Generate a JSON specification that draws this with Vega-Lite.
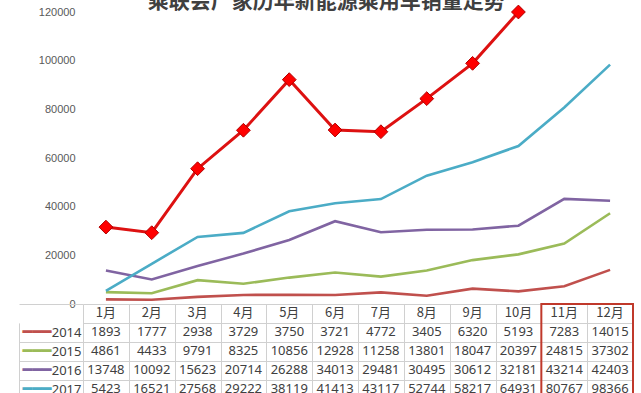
{
  "$schema": "https://vega.github.io/schema/vega-lite/v6.json",
  "background": "white",
  "padding": {"left": 18, "top": -10, "right": 0, "bottom": -21.5},
  "title": {"text": "乘联会厂家历年新能源乘用车销量走势", "font": "Noto Sans CJK SC", "fontSize": 21, "fontWeight": "bold", "color": "#404040", "anchor": "middle", "offset": -8.5},
  "bounds": "flush",
  "spacing": 0,
  "config": {"view": {"stroke": null}},
  "resolve": {"scale": {"x": "independent", "y": "independent"}},
  "datasets": {
    "sales": [
      {"year": "2014", "month": "1月", "value": 1893}, {"year": "2014", "month": "2月", "value": 1777}, {"year": "2014", "month": "3月", "value": 2938}, {"year": "2014", "month": "4月", "value": 3729}, {"year": "2014", "month": "5月", "value": 3750}, {"year": "2014", "month": "6月", "value": 3721}, {"year": "2014", "month": "7月", "value": 4772}, {"year": "2014", "month": "8月", "value": 3405}, {"year": "2014", "month": "9月", "value": 6320}, {"year": "2014", "month": "10月", "value": 5193}, {"year": "2014", "month": "11月", "value": 7283}, {"year": "2014", "month": "12月", "value": 14015},
      {"year": "2015", "month": "1月", "value": 4861}, {"year": "2015", "month": "2月", "value": 4433}, {"year": "2015", "month": "3月", "value": 9791}, {"year": "2015", "month": "4月", "value": 8325}, {"year": "2015", "month": "5月", "value": 10856}, {"year": "2015", "month": "6月", "value": 12928}, {"year": "2015", "month": "7月", "value": 11258}, {"year": "2015", "month": "8月", "value": 13801}, {"year": "2015", "month": "9月", "value": 18047}, {"year": "2015", "month": "10月", "value": 20397}, {"year": "2015", "month": "11月", "value": 24815}, {"year": "2015", "month": "12月", "value": 37302},
      {"year": "2016", "month": "1月", "value": 13748}, {"year": "2016", "month": "2月", "value": 10092}, {"year": "2016", "month": "3月", "value": 15623}, {"year": "2016", "month": "4月", "value": 20714}, {"year": "2016", "month": "5月", "value": 26288}, {"year": "2016", "month": "6月", "value": 34013}, {"year": "2016", "month": "7月", "value": 29481}, {"year": "2016", "month": "8月", "value": 30495}, {"year": "2016", "month": "9月", "value": 30612}, {"year": "2016", "month": "10月", "value": 32181}, {"year": "2016", "month": "11月", "value": 43214}, {"year": "2016", "month": "12月", "value": 42403},
      {"year": "2017", "month": "1月", "value": 5423}, {"year": "2017", "month": "2月", "value": 16521}, {"year": "2017", "month": "3月", "value": 27568}, {"year": "2017", "month": "4月", "value": 29222}, {"year": "2017", "month": "5月", "value": 38119}, {"year": "2017", "month": "6月", "value": 41413}, {"year": "2017", "month": "7月", "value": 43117}, {"year": "2017", "month": "8月", "value": 52744}, {"year": "2017", "month": "9月", "value": 58217}, {"year": "2017", "month": "10月", "value": 64931}, {"year": "2017", "month": "11月", "value": 80767}, {"year": "2017", "month": "12月", "value": 98366},
      {"year": "2018", "month": "1月", "value": 31600}, {"year": "2018", "month": "2月", "value": 29300}, {"year": "2018", "month": "3月", "value": 55600}, {"year": "2018", "month": "4月", "value": 71400}, {"year": "2018", "month": "5月", "value": 92200}, {"year": "2018", "month": "6月", "value": 71500}, {"year": "2018", "month": "7月", "value": 70800}, {"year": "2018", "month": "8月", "value": 84400}, {"year": "2018", "month": "9月", "value": 98900}, {"year": "2018", "month": "10月", "value": 120000}
    ]
  },
  "vconcat": [
    {
      "width": 550,
      "height": 292,
      "data": {"name": "sales"},
      "encoding": {
        "x": {"field": "month", "type": "ordinal", "scale": {"type": "point", "padding": 0.5, "domain": ["1月","2月","3月","4月","5月","6月","7月","8月","9月","10月","11月","12月"]}, "axis": null},
        "y": {"field": "value", "type": "quantitative", "scale": {"domain": [0, 120000], "nice": false}, "axis": {"title": null, "values": [0, 20000, 40000, 60000, 80000, 100000, 120000], "format": "d", "grid": false, "domain": false, "ticks": false, "labelPadding": 8, "labelFont": "Liberation Sans", "labelFontSize": 11, "labelColor": "#595959"}}
      },
      "layer": [
        {
          "transform": [{"filter": "datum.year !== '2018'"}],
          "mark": {"type": "line", "strokeWidth": 2.6},
          "encoding": {"color": {"field": "year", "type": "nominal", "scale": {"domain": ["2014", "2015", "2016", "2017"], "range": ["#c0504d", "#9bbb59", "#8064a2", "#4bacc6"]}, "legend": null}}
        },
        {
          "transform": [{"filter": "datum.year === '2018'"}],
          "mark": {"type": "line", "strokeWidth": 3, "color": "#dd1111"},
          "encoding": {}
        },
        {
          "transform": [{"filter": "datum.year === '2018'"}],
          "mark": {"type": "point", "shape": "diamond", "filled": true, "size": 190, "fill": "#ff0000", "stroke": "#b00000", "strokeWidth": 1, "opacity": 1},
          "encoding": {}
        }
      ]
    },
    {
      "width": 550,
      "height": 113.4,
      "data": {"name": "sales"},
      "resolve": {"axis": {"y": "independent"}},
      "layer": [
        {
          "mark": {"type": "text", "font": "Noto Sans", "fontSize": 13, "color": "#404040"},
          "encoding": {
            "x": {"field": "month", "type": "ordinal", "scale": {"type": "band", "domain": ["1月","2月","3月","4月","5月","6月","7月","8月","9月","10月","11月","12月"], "paddingInner": 0, "paddingOuter": 0}, "axis": {"title": null, "orient": "top", "labels": false, "ticks": false, "domain": false, "grid": true, "gridColor": "#d0d0d0", "tickBand": "extent"}},
            "y": {"field": "year", "type": "ordinal", "scale": {"type": "band", "domain": ["月", "2014", "2015", "2016", "2017", "2018"], "paddingInner": 0, "paddingOuter": 0}, "axis": {"title": null, "orient": "left", "labelExpr": "datum.value === '月' ? '' : datum.value", "domain": false, "grid": true, "gridColor": "#d0d0d0", "tickBand": "extent", "ticks": true, "tickSize": 64, "tickColor": {"condition": {"test": "datum.value === '月'", "value": "transparent"}, "value": "#d0d0d0"}, "labelPadding": -62, "labelAlign": "right", "labelFont": "Noto Sans", "labelFontSize": 13, "labelColor": "#404040"}},
            "text": {"field": "value", "type": "quantitative", "format": "d"}
          }
        },
        {
          "transform": [{"filter": "datum.year === '2014'"}],
          "mark": {"type": "text", "font": "Noto Sans CJK SC", "fontSize": 13, "color": "#404040"},
          "encoding": {
            "x": {"field": "month", "type": "ordinal"},
            "y": {"datum": "月", "type": "ordinal", "axis": null},
            "text": {"field": "month", "type": "nominal"}
          }
        },
        {
          "transform": [{"filter": "false"}],
          "mark": {"type": "text"},
          "encoding": {
            "y": {"field": "year", "type": "ordinal", "axis": {"title": null, "orient": "left", "offset": 64, "domain": true, "domainColor": "#d0d0d0", "domainDash": [0, 18.9, 400, 0], "ticks": false, "grid": false, "labelExpr": "datum.value === '月' ? '' : '━━━'", "labelFont": "DejaVu Sans", "labelFontSize": 16, "labelAlign": "right", "labelPadding": -32, "labelColor": {"condition": [{"test": "datum.value === '2014'", "value": "#c0504d"}, {"test": "datum.value === '2015'", "value": "#9bbb59"}, {"test": "datum.value === '2016'", "value": "#8064a2"}, {"test": "datum.value === '2017'", "value": "#4bacc6"}], "value": "#dd1111"}}},
            "text": {"field": "value", "type": "quantitative"}
          }
        },
        {
          "data": {"values": [{"box": "11-12"}]},
          "mark": {"type": "rect", "filled": false, "stroke": "#c0392b", "strokeWidth": 2},
          "encoding": {
            "x": {"datum": "11月", "type": "ordinal", "bandPosition": 0},
            "x2": {"datum": "12月", "bandPosition": 1}
          }
        }
      ]
    }
  ]
}
